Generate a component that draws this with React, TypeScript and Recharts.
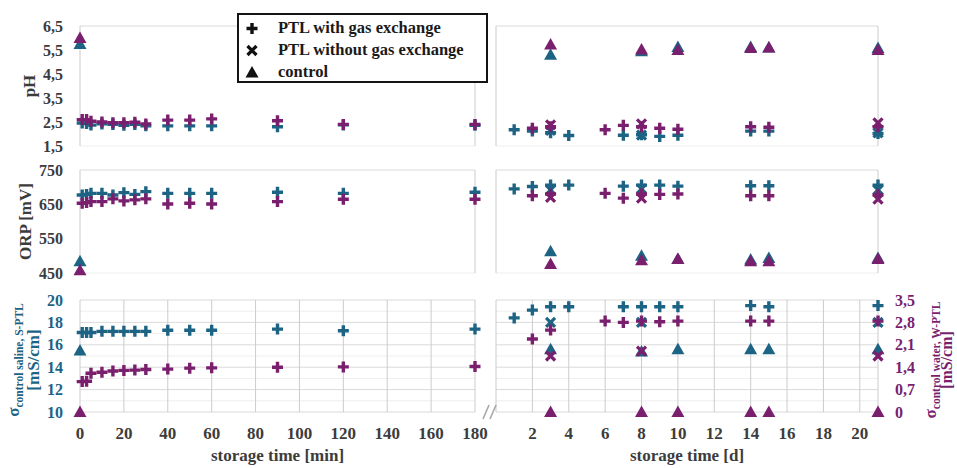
import type { ReactNode } from "react";
import { CartesianGrid, Legend, Scatter, ScatterChart, XAxis, YAxis } from "recharts";

const TEAL = "#1c6384";
const PURPLE = "#7a1f6d";
const INK = "#3c3c3c";
const FONT = '"Liberation Serif", "Times New Roman", serif';

// storage time axes
const minTimes = [1, 3, 5, 10, 15, 20, 25, 30, 40, 50, 60, 90, 120, 180];
const minControlTimes = [0];
const minTicks = [0, 20, 40, 60, 80, 100, 120, 140, 160, 180];
const dayTicks = [2, 4, 6, 8, 10, 12, 14, 16, 18, 20];
const salineWithDays = [1, 2, 3, 4, 7, 8, 9, 10, 14, 15, 21];
const waterWithDays = [2, 3, 6, 7, 8, 9, 10, 14, 15, 21];
const withoutDays = [3, 8, 21];
const controlDays = [3, 8, 10, 14, 15, 21];

// value axes: all grid ticks, and the labelled ones
const phTicks = [1.5, 2, 2.5, 3, 3.5, 4, 4.5, 5, 5.5, 6, 6.5];
const phLabels = [1.5, 2.5, 3.5, 4.5, 5.5, 6.5];
const orpTicks = [450, 500, 550, 600, 650, 700, 750];
const orpLabels = [450, 550, 650, 750];
const salineTicks = [10, 11, 12, 13, 14, 15, 16, 17, 18, 19, 20];
const salineLabels = [10, 12, 14, 16, 18, 20];
const waterTicks = [0, 0.35, 0.7, 1.05, 1.4, 1.75, 2.1, 2.45, 2.8, 3.15, 3.5];
const waterLabels = [0, 0.7, 1.4, 2.1, 2.8, 3.5];

// pH
const phSalineMin = [2.46, 2.44, 2.37, 2.42, 2.4, 2.36, 2.4, 2.34, 2.34, 2.34, 2.34, 2.3, 2.38, 2.36];
const phWaterMin = [2.6, 2.6, 2.53, 2.5, 2.47, 2.47, 2.49, 2.42, 2.58, 2.58, 2.63, 2.55, 2.4, 2.4];
const phSalineControlMin = [5.75];
const phWaterControlMin = [6.0];
const phSalineWithDay = [2.18, 2.12, 2.05, 1.94, 1.95, 1.97, 1.9, 1.95, 2.12, 2.12, 2.02];
const phWaterWithDay = [2.24, 2.3, 2.18, 2.36, 2.3, 2.24, 2.2, 2.3, 2.28, 2.3];
const phSalineWithoutDay = [2.15, 1.95, 2.05];
const phWaterWithoutDay = [2.38, 2.42, 2.46];
const phSalineControlDay = [5.3, 5.45, 5.62, 5.63, 5.6, 5.58];
const phWaterControlDay = [5.73, 5.52, 5.5, 5.58, 5.6, 5.5];

// ORP [mV]
const orpSalineMin = [677, 679, 682, 682, 677, 684, 679, 687, 682, 682, 682, 685, 682, 685];
const orpWaterMin = [653, 655, 658, 658, 666, 660, 663, 666, 651, 653, 651, 658, 665, 665];
const orpSalineControlMin = [484];
const orpWaterControlMin = [458];
const orpSalineWithDay = [695, 702, 706, 706, 703, 706, 706, 703, 704, 704, 706];
const orpWaterWithDay = [675, 680, 682, 668, 680, 679, 680, 675, 675, 678];
const orpSalineWithoutDay = [692, 695, 692];
const orpWaterWithoutDay = [670, 668, 665];
const orpSalineControlDay = [513, 500, 491, 489, 494, 494];
const orpWaterControlDay = [476, 487, 491, 484, 484, 491];

// conductivity: saline on the 10-20 scale, water on the 0-3.5 scale
const condSalineMin = [17.1, 17.1, 17.1, 17.2, 17.2, 17.2, 17.2, 17.2, 17.3, 17.3, 17.3, 17.4, 17.25, 17.4];
const condWaterMin = [0.95, 0.96, 1.21, 1.24, 1.28, 1.3, 1.31, 1.33, 1.34, 1.37, 1.38, 1.4, 1.41, 1.42];
const condSalineControlMin = [15.5];
const condWaterControlMin = [0];
const condSalineWithDay = [18.4, 19.1, 19.4, 19.4, 19.4, 19.4, 19.4, 19.4, 19.5, 19.4, 19.5];
const condWaterWithDay = [2.28, 2.56, 2.84, 2.8, 2.84, 2.82, 2.84, 2.84, 2.84, 2.84];
const condSalineWithoutDay = [18.0, 18.0, 18.0];
const condWaterWithoutDay = [1.75, 1.9, 1.75];
const condSalineControlDay = [15.6, 15.4, 15.6, 15.6, 15.6, 15.6];
const condWaterControlDay = [0, 0, 0, 0, 0, 0];

const pts = (xs: number[], ys: number[]) => xs.map((x, i) => ({ x, y: ys[i] }));

type Mark = "plus" | "cross" | "tri";

function markPath(kind: Mark, cx: number, cy: number, color: string) {
  if (kind === "plus") {
    return <path d={`M${cx - 5.5},${cy}H${cx + 5.5}M${cx},${cy - 5.5}V${cy + 5.5}`} stroke={color} strokeWidth={3.4} fill="none" />;
  }
  if (kind === "cross") {
    return <path d={`M${cx - 4.5},${cy - 4.5}L${cx + 4.5},${cy + 4.5}M${cx - 4.5},${cy + 4.5}L${cx + 4.5},${cy - 4.5}`} stroke={color} strokeWidth={3.2} fill="none" />;
  }
  return <path d={`M${cx},${cy - 6.5}L${cx + 6.5},${cy + 5}L${cx - 6.5},${cy + 5}Z`} fill={color} />;
}

function series(data: { x: number; y: number }[], kind: Mark, color: string, yAxisId: string = "y") {
  return (
    <Scatter
      data={data}
      yAxisId={yAxisId}
      isAnimationActive={false}
      shape={(p: any) => markPath(kind, p.cx ?? 0, p.cy ?? 0, color)}
    />
  );
}

const comma = (v: number) => (v === 0 ? "0" : v.toFixed(1).replace(".", ","));
const only = (labels: number[], fmt: (v: number) => string) => (v: number) =>
  labels.some((l) => Math.abs(l - v) < 1e-6) ? fmt(v) : "";

const gridLine = (p: any) => (
  <line
    key={p.key}
    x1={p.x1}
    y1={p.y1}
    x2={p.x2}
    y2={p.y2}
    stroke={p.index % 2 === 0 ? "#dadada" : "#eeeeee"}
    strokeWidth={1}
  />
);

const tickStyle = (fill: string) => ({ fill, fontFamily: FONT, fontWeight: 700, fontSize: 16 });
const xTickStyle = { fill: INK, fontFamily: FONT, fontWeight: 700, fontSize: 17 };

const yTitle = (x: number, content: ReactNode) => (props: any) => {
  const vb = props.viewBox ?? {};
  const cy = (vb.y ?? 0) + (vb.height ?? 0) / 2;
  return (
    <text x={x} y={cy} transform={`rotate(-90 ${x} ${cy})`} textAnchor="middle" fontFamily={FONT} fontWeight={700} fontSize={17} fill={INK}>
      {content}
    </text>
  );
};

const sigmaTitle = (x1: number, x2: number, sub: string, color: string, size = 17) => (props: any) => {
  const vb = props.viewBox ?? {};
  const cy = (vb.y ?? 0) + (vb.height ?? 0) / 2 + 4;
  const common = { textAnchor: "middle" as const, fontFamily: FONT, fontWeight: 700, fill: color };
  return (
    <g>
      <text x={x1} y={cy} transform={`rotate(-90 ${x1} ${cy})`} fontSize={17} {...common}>
        σ<tspan fontSize={11.5} dy={4}>{sub}</tspan>
      </text>
      <text x={x2} y={cy} transform={`rotate(-90 ${x2} ${cy})`} fontSize={size} {...common}>
        [mS/cm]
      </text>
    </g>
  );
};

const xTitle = (text: string) => (props: any) => {
  const vb = props.viewBox ?? {};
  return (
    <text x={(vb.x ?? 0) + (vb.width ?? 0) / 2} y={(vb.y ?? 0) + 49} textAnchor="middle" fontFamily={FONT} fontWeight={700} fontSize={17} fill={INK}>
      {text}
    </text>
  );
};

const legendItems: { label: string; mark: Mark }[] = [
  { label: "PTL with gas exchange", mark: "plus" },
  { label: "PTL without gas exchange", mark: "cross" },
  { label: "control", mark: "tri" },
];

function LegendBox() {
  return (
    <div
      style={{
        border: "2px solid #141414",
        background: "#fff",
        width: 251,
        height: 70,
        boxSizing: "border-box",
        paddingTop: 2,
        fontFamily: FONT,
        fontWeight: 700,
        fontSize: 16.5,
        color: "#1a1a1a",
      }}
    >
      {legendItems.map((it) => (
        <div key={it.label} style={{ display: "flex", alignItems: "center", height: 22, whiteSpace: "nowrap" }}>
          <svg width={14} height={14} style={{ marginLeft: 6 }}>
            {markPath(it.mark, 7, 7.5, "#111")}
          </svg>
          <span style={{ marginLeft: 19 }}>{it.label}</span>
        </div>
      ))}
    </div>
  );
}

const box = (left: number, top: number, width: number, height: number) => ({
  position: "absolute" as const,
  left,
  top,
  width,
  height,
});

const hiddenX = (domain: [number, number], ticks: number[]) => (
  <XAxis type="number" dataKey="x" domain={domain} ticks={ticks} interval={0} height={0} tick={false} axisLine={false} tickLine={false} />
);

export default function App() {
  const vGrid = { stroke: "#d6d6d6" };
  return (
    <div style={{ position: "absolute", left: 0, top: 0, width: 957, height: 468, background: "#fff" }}>
      {/* pH, minutes */}
      <div style={box(0, 0, 490, 160)}>
        <ScatterChart width={490} height={160} margin={{ top: 26, right: 15, bottom: 14, left: 0 }}>
          <CartesianGrid horizontal={gridLine} vertical={vGrid} />
          {hiddenX([0, 180], minTicks)}
          <YAxis yAxisId="y" type="number" dataKey="y" domain={[1.5, 6.5]} ticks={phTicks} interval={0} width={80} axisLine={false} tickLine={false} tickSize={0} tickMargin={17} tick={tickStyle(INK)} tickFormatter={only(phLabels, comma)} label={yTitle(35, "pH")} />
          <Legend layout="vertical" align="center" verticalAlign="middle" content={() => <LegendBox />} wrapperStyle={{ position: "absolute", left: 237, top: 13, width: 251, height: 70 }} />
          {series(pts(minTimes, phSalineMin), "plus", TEAL)}
          {series(pts(minControlTimes, phSalineControlMin), "tri", TEAL)}
          {series(pts(minTimes, phWaterMin), "plus", PURPLE)}
          {series(pts(minControlTimes, phWaterControlMin), "tri", PURPLE)}
        </ScatterChart>
      </div>

      {/* pH, days */}
      <div style={box(490, 0, 467, 160)}>
        <ScatterChart width={467} height={160} margin={{ top: 26, right: 79, bottom: 14, left: 6 }}>
          <CartesianGrid horizontal={gridLine} vertical={vGrid} />
          {hiddenX([0, 21], dayTicks)}
          <YAxis yAxisId="y" type="number" dataKey="y" domain={[1.5, 6.5]} ticks={phTicks} interval={0} width={0} tick={false} axisLine={false} tickLine={false} />
          {series(pts(salineWithDays, phSalineWithDay), "plus", TEAL)}
          {series(pts(withoutDays, phSalineWithoutDay), "cross", TEAL)}
          {series(pts(controlDays, phSalineControlDay), "tri", TEAL)}
          {series(pts(waterWithDays, phWaterWithDay), "plus", PURPLE)}
          {series(pts(withoutDays, phWaterWithoutDay), "cross", PURPLE)}
          {series(pts(controlDays, phWaterControlDay), "tri", PURPLE)}
        </ScatterChart>
      </div>

      {/* ORP, minutes */}
      <div style={box(0, 150, 490, 140)}>
        <ScatterChart width={490} height={140} margin={{ top: 20, right: 15, bottom: 17, left: 0 }}>
          <CartesianGrid horizontal={gridLine} vertical={vGrid} />
          {hiddenX([0, 180], minTicks)}
          <YAxis yAxisId="y" type="number" dataKey="y" domain={[450, 750]} ticks={orpTicks} interval={0} width={80} axisLine={false} tickLine={false} tickSize={0} tickMargin={17} tick={tickStyle(INK)} tickFormatter={only(orpLabels, String)} label={yTitle(31, "ORP [mV]")} />
          {series(pts(minTimes, orpSalineMin), "plus", TEAL)}
          {series(pts(minControlTimes, orpSalineControlMin), "tri", TEAL)}
          {series(pts(minTimes, orpWaterMin), "plus", PURPLE)}
          {series(pts(minControlTimes, orpWaterControlMin), "tri", PURPLE)}
        </ScatterChart>
      </div>

      {/* ORP, days */}
      <div style={box(490, 150, 467, 140)}>
        <ScatterChart width={467} height={140} margin={{ top: 20, right: 79, bottom: 17, left: 6 }}>
          <CartesianGrid horizontal={gridLine} vertical={vGrid} />
          {hiddenX([0, 21], dayTicks)}
          <YAxis yAxisId="y" type="number" dataKey="y" domain={[450, 750]} ticks={orpTicks} interval={0} width={0} tick={false} axisLine={false} tickLine={false} />
          {series(pts(salineWithDays, orpSalineWithDay), "plus", TEAL)}
          {series(pts(withoutDays, orpSalineWithoutDay), "cross", TEAL)}
          {series(pts(controlDays, orpSalineControlDay), "tri", TEAL)}
          {series(pts(waterWithDays, orpWaterWithDay), "plus", PURPLE)}
          {series(pts(withoutDays, orpWaterWithoutDay), "cross", PURPLE)}
          {series(pts(controlDays, orpWaterControlDay), "tri", PURPLE)}
        </ScatterChart>
      </div>

      {/* conductivity, minutes */}
      <div style={box(0, 280, 490, 188)}>
        <ScatterChart width={490} height={188} margin={{ top: 20, right: 15, bottom: 0, left: 0 }}>
          <CartesianGrid yAxisId="s" horizontal={gridLine} vertical={vGrid} />
          <XAxis type="number" dataKey="x" domain={[0, 180]} ticks={minTicks} interval={0} height={56} axisLine={false} tickLine={false} tickSize={0} tickMargin={15} tick={xTickStyle} label={xTitle("storage time [min]")} />
          <YAxis yAxisId="s" type="number" dataKey="y" domain={[10, 20]} ticks={salineTicks} interval={0} width={80} axisLine={false} tickLine={false} tickSize={0} tickMargin={17} tick={tickStyle(TEAL)} tickFormatter={only(salineLabels, String)} label={sigmaTitle(19, 39, "control saline, S-PTL", TEAL)} />
          <YAxis yAxisId="w" orientation="right" type="number" dataKey="y" domain={[0, 3.5]} ticks={waterTicks} hide />
          {series(pts(minTimes, condSalineMin), "plus", TEAL, "s")}
          {series(pts(minControlTimes, condSalineControlMin), "tri", TEAL, "s")}
          {series(pts(minTimes, condWaterMin), "plus", PURPLE, "w")}
          {series(pts(minControlTimes, condWaterControlMin), "tri", PURPLE, "w")}
        </ScatterChart>
      </div>

      {/* conductivity, days */}
      <div style={box(490, 280, 467, 188)}>
        <ScatterChart width={467} height={188} margin={{ top: 20, right: 0, bottom: 0, left: 6 }}>
          <CartesianGrid yAxisId="w" horizontal={gridLine} vertical={vGrid} />
          <XAxis type="number" dataKey="x" domain={[0, 21]} ticks={dayTicks} interval={0} height={56} axisLine={false} tickLine={false} tickSize={0} tickMargin={15} tick={xTickStyle} label={xTitle("storage time [d]")} />
          <YAxis yAxisId="s" type="number" dataKey="y" domain={[10, 20]} ticks={salineTicks} hide />
          <YAxis yAxisId="w" orientation="right" type="number" dataKey="y" domain={[0, 3.5]} ticks={waterTicks} interval={0} width={79} axisLine={false} tickLine={false} tickSize={0} tickMargin={17} tick={tickStyle(PURPLE)} tickFormatter={only(waterLabels, comma)} label={sigmaTitle(446, 462, "control water, W-PTL", PURPLE, 16)} />
          {series(pts(salineWithDays, condSalineWithDay), "plus", TEAL, "s")}
          {series(pts(withoutDays, condSalineWithoutDay), "cross", TEAL, "s")}
          {series(pts(controlDays, condSalineControlDay), "tri", TEAL, "s")}
          {series(pts(waterWithDays, condWaterWithDay), "plus", PURPLE, "w")}
          {series(pts(withoutDays, condWaterWithoutDay), "cross", PURPLE, "w")}
          {series(pts(controlDays, condWaterControlDay), "tri", PURPLE, "w")}
        </ScatterChart>
      </div>

      {/* axis break */}
      <svg style={box(478, 400, 24, 24)} width={24} height={24}>
        <line x1={5} y1={19} x2={11} y2={5} stroke="#a8a8a8" strokeWidth={1.6} />
        <line x1={12} y1={19} x2={18} y2={5} stroke="#a8a8a8" strokeWidth={1.6} />
      </svg>
    </div>
  );
}
